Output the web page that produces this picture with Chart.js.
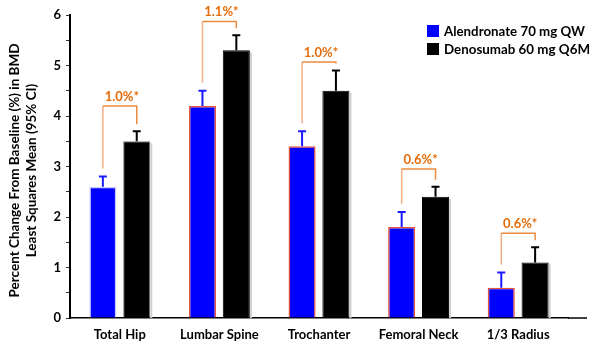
<!DOCTYPE html>
<html>
<head>
<meta charset="utf-8">
<script src="https://cdn.jsdelivr.net/npm/chart.js@4/dist/chart.umd.min.js"></script>
<style>
  html, body { margin: 0; padding: 0; background: #fff; }
  #wrap { width: 600px; height: 353px; }
</style>
</head>
<body>
<div id="wrap"><canvas id="bmd-chart" width="600" height="353"></canvas></div>
<script>
// Chart values
var categories = ['Total Hip', 'Lumbar Spine', 'Trochanter', 'Femoral Neck', '1/3 Radius'];
var alendronate = [2.6, 4.2, 3.4, 1.8, 0.6];
var alendronateUpper = [2.8, 4.5, 3.7, 2.1, 0.9];
var denosumab = [3.5, 5.3, 4.5, 2.4, 1.1];
var denosumabUpper = [3.7, 5.6, 4.9, 2.6, 1.4];
var differences = ['1.0%*', '1.1%*', '1.0%*', '0.6%*', '0.6%*'];
var bracketTops = [4.2, 5.87, 5.07, 2.95, 1.68];
var yTicks = [0, 1, 2, 3, 4, 5, 6];

var FONT = 'Lato, "Open Sans", sans-serif';

// Error bars, comparison brackets, legend and y title
var extrasPlugin = {
    id: 'extras',
    afterDatasetsDraw: function(chart) {
        var ctx = chart.ctx;
        var y = chart.scales.y;
        var area = chart.chartArea;
        var uppers = [alendronateUpper, denosumabUpper];
        var errColors = ['#1a1aff', '#000000'];

        ctx.save();
        // extend the baseline to the right
        ctx.strokeStyle = '#000';
        ctx.lineWidth = 1.5;
        ctx.beginPath();
        ctx.moveTo(area.right, area.bottom);
        ctx.lineTo(587, area.bottom);
        ctx.stroke();

        // light shadow on the right of the black bars
        var m1 = chart.getDatasetMeta(1).data;
        ctx.fillStyle = '#d0d0d0';
        m1.forEach(function(bar) {
            ctx.fillRect(bar.x + bar.width / 2, bar.y + 2, 2, area.bottom - bar.y - 2);
        });

        // error bars
        for (var d = 0; d < 2; d++) {
            var meta = chart.getDatasetMeta(d);
            meta.data.forEach(function(bar, i) {
                var top = y.getPixelForValue(uppers[d][i]);
                ctx.strokeStyle = errColors[d];
                ctx.lineWidth = 2;
                ctx.beginPath();
                ctx.moveTo(bar.x, bar.y);
                ctx.lineTo(bar.x, top);
                ctx.moveTo(bar.x - 4, top);
                ctx.lineTo(bar.x + 4, top);
                ctx.stroke();
            });
        }

        // brackets with difference labels
        var m0 = chart.getDatasetMeta(0).data;
        categories.forEach(function(c, i) {
            var lx = m0[i].x, rx = m1[i].x;
            var ty = y.getPixelForValue(bracketTops[i]);
            var lb = y.getPixelForValue(alendronateUpper[i]) - 8;
            var rb = y.getPixelForValue(denosumabUpper[i]) - 7;
            ctx.lineWidth = 1.5;
            ctx.strokeStyle = '#f4b084';
            ctx.beginPath();
            ctx.moveTo(lx, lb);
            ctx.lineTo(lx, ty);
            ctx.stroke();
            ctx.strokeStyle = '#ec8a3e';
            ctx.beginPath();
            ctx.moveTo(lx, ty);
            ctx.lineTo(rx, ty);
            ctx.lineTo(rx, rb);
            ctx.stroke();
            ctx.fillStyle = '#e46c0a';
            ctx.font = 'bold 13px ' + FONT;
            ctx.textAlign = 'center';
            ctx.textBaseline = 'bottom';
            ctx.fillText(differences[i], (lx + rx) / 2 + 2, ty - 3);
        });

        // legend
        ctx.font = 'bold 14px ' + FONT;
        ctx.textAlign = 'left';
        ctx.textBaseline = 'middle';
        chart.data.datasets.forEach(function(ds, i) {
            var top = 25 + i * 18;
            ctx.fillStyle = ds.backgroundColor;
            ctx.fillRect(427, top, 12, 12);
            ctx.fillStyle = '#000';
            ctx.fillText(ds.label, 444, top + 6.5, i === 0 ? 141 : 146);
        });

        // y axis title (two lines)
        ctx.translate(0, (area.top + area.bottom) / 2 + 4);
        ctx.rotate(-Math.PI / 2);
        ctx.textAlign = 'center';
        ctx.font = 'bold 13.5px ' + FONT;
        ctx.fillText('Percent Change From Baseline (%) in BMD', 0, 15);
        ctx.fillText('Least Squares Mean (95% CI)', 0, 32);
        ctx.restore();
    }
};

var ctx = document.getElementById('bmd-chart').getContext('2d');
var bmdChart = new Chart(ctx, {
    type: 'bar',
    data: {
        labels: categories,
        datasets: [{
            label: 'Alendronate 70 mg QW',
            data: alendronate,
            backgroundColor: '#0000ff',
            borderColor: ['#c8c8f8', '#e8553f', '#e8553f', '#e8553f', '#e8553f'],
            borderWidth: 1.5,
            barPercentage: 0.8,
            categoryPercentage: 0.68
        }, {
            label: 'Denosumab 60 mg Q6M',
            data: denosumab,
            backgroundColor: '#000000',
            borderColor: ['#777777', '#000000', '#000000', '#000000', '#000000'],
            borderWidth: 1,
            barPercentage: 0.8,
            categoryPercentage: 0.68
        }]
    },
    options: {
        responsive: false,
        animation: false,
        layout: {
            padding: { top: 15, right: 32, left: 0, bottom: 0 }
        },
        scales: {
            x: {
                grid: { display: false, drawTicks: false },
                border: { color: '#000', width: 1.5 },
                ticks: {
                    color: '#000',
                    padding: 9,
                    font: { family: FONT, size: 13, weight: 'bold' }
                },
                afterFit: function(scale) { scale.height = 35; }
            },
            y: {
                min: 0,
                max: 6,
                grid: {
                    display: true,
                    drawOnChartArea: false,
                    drawTicks: true,
                    tickLength: 4,
                    tickColor: '#333'
                },
                border: { color: '#000', width: 2 },
                ticks: {
                    stepSize: 0.25,
                    color: '#000',
                    padding: 5,
                    font: { family: FONT, size: 13, weight: 'bold' },
                    callback: function(v) {
                        return yTicks.indexOf(v) >= 0 ? String(v) : '';
                    }
                },
                afterFit: function(scale) { scale.width = 70; }
            }
        },
        plugins: {
            legend: { display: false },
            tooltip: { enabled: false }
        }
    },
    plugins: [extrasPlugin]
});
</script>
</body>
</html>
